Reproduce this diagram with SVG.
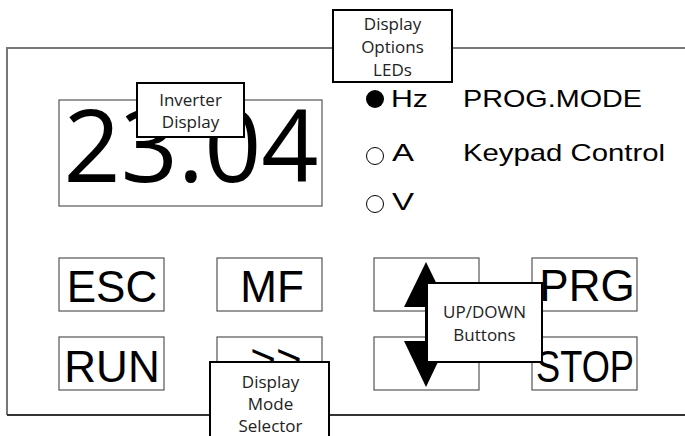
<svg xmlns="http://www.w3.org/2000/svg" width="685" height="436" viewBox="0 0 685 436">
<style>
.btn{fill:#fff;stroke:#555;stroke-width:1.2}
.key{font-family:"Liberation Sans",Arial,sans-serif;font-size:44px;fill:#000;text-anchor:middle}
.led{font-family:"Liberation Sans",Arial,sans-serif;font-size:24px;fill:#000}
.call{fill:#fff;stroke:#000;stroke-width:2}
.ct{font-family:"Open Sans","Noto Sans",sans-serif;font-size:17px;fill:#222;text-anchor:middle}
</style>
<rect width="685" height="436" fill="#fff"/>
<g id="panel">
<path d="M7,415 V48 H690" fill="none" stroke="#777" stroke-width="2"/>
<path d="M7,415 H690" fill="none" stroke="#333" stroke-width="2"/>
</g>
<g id="display">
<rect x="59" y="100" width="263" height="106" fill="#fff" stroke="#555" stroke-width="1.2"/>
<text x="191" y="182" font-family="'Open Sans','Noto Sans',sans-serif" font-size="100" text-anchor="middle" fill="#000">23.04</text>
</g>
<g id="leds">
<circle cx="375" cy="99" r="9" fill="#000"/>
<text class="led" x="391" y="107" textLength="37" lengthAdjust="spacingAndGlyphs">Hz</text>
<circle cx="375" cy="156" r="8.5" fill="none" stroke="#000" stroke-width="1"/>
<text class="led" x="392" y="161" textLength="22" lengthAdjust="spacingAndGlyphs">A</text>
<circle cx="375" cy="204" r="8.5" fill="none" stroke="#000" stroke-width="1"/>
<text class="led" x="392" y="210" textLength="22" lengthAdjust="spacingAndGlyphs">V</text>
</g>
<g id="status">
<text class="led" x="463" y="107" textLength="179" lengthAdjust="spacingAndGlyphs">PROG.MODE</text>
<text class="led" x="463" y="161" textLength="202" lengthAdjust="spacingAndGlyphs">Keypad Control</text>
</g>
<g id="btn-esc"><rect class="btn" x="59" y="258" width="105" height="53"/><text class="key" x="112" y="302">ESC</text></g>
<g id="btn-mf"><rect class="btn" x="217" y="258" width="105" height="53"/><text class="key" x="272" y="302">MF</text></g>
<g id="btn-run"><rect class="btn" x="59" y="337" width="105" height="53"/><text class="key" x="112" y="382">RUN</text></g>
<g id="btn-shift"><rect class="btn" x="217" y="337" width="105" height="53"/><text class="key" x="276" y="375" font-size="58">&gt;&gt;</text></g>
<g id="btn-up"><rect class="btn" x="374" y="258" width="105" height="53"/><path d="M426,262 L404,307 L448,307 Z" fill="#000"/></g>
<g id="btn-down"><rect class="btn" x="374" y="337" width="105" height="53"/><path d="M426,387 L404,341 L448,341 Z" fill="#000"/></g>
<g id="btn-prg"><rect class="btn" x="532" y="258" width="105" height="53"/><text class="key" x="587" y="301">PRG</text></g>
<g id="btn-stop"><rect class="btn" x="532" y="337" width="105" height="53"/><text class="key" x="585" y="382" textLength="98" lengthAdjust="spacingAndGlyphs">STOP</text></g>
<g id="connectors">
<line x1="426" y1="305" x2="426" y2="343" stroke="#000" stroke-width="2"/>
</g>
<g id="callout-inverter">
<rect class="call" x="137" y="83" width="107" height="54"/>
<text class="ct" x="190.5" y="106">Inverter</text>
<text class="ct" x="190.5" y="128">Display</text>
</g>
<g id="callout-leds">
<rect class="call" x="333" y="10" width="119" height="72"/>
<text class="ct" x="392.5" y="30">Display</text>
<text class="ct" x="392.5" y="53">Options</text>
<text class="ct" x="392.5" y="76">LEDs</text>
</g>
<g id="callout-updown">
<rect class="call" x="427" y="283" width="115" height="79"/>
<text class="ct" x="484.5" y="318">UP/DOWN</text>
<text class="ct" x="484.5" y="341">Buttons</text>
</g>
<g id="callout-mode">
<rect class="call" x="210" y="362" width="119" height="90"/>
<text class="ct" x="270.5" y="388">Display</text>
<text class="ct" x="270.5" y="410">Mode</text>
<text class="ct" x="270.5" y="432">Selector</text>
</g>
</svg>
